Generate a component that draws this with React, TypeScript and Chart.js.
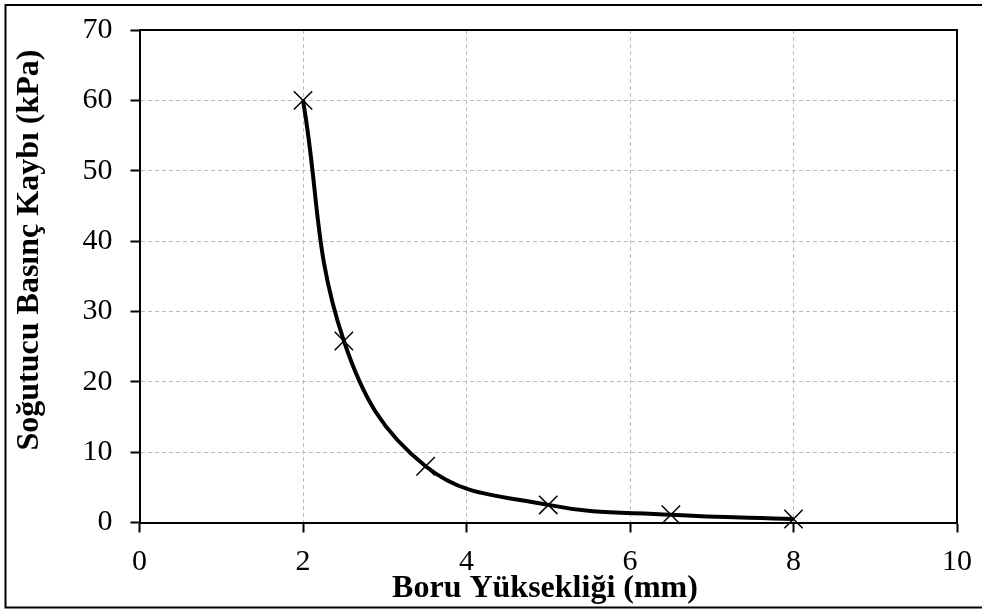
import React, { useEffect, useRef } from "react";
import { Chart, registerables } from "chart.js";

Chart.register(...registerables);

const xValues = [2, 2.5, 3.5, 5, 6.5, 8];
const yValues = [60, 25.8, 8, 2.5, 1.1, 0.5];
const xTitle = "Boru Yüksekliği (mm)";
const yTitle = "Soğutucu Basınç Kaybı (kPa)";
const FONT = "'Liberation Serif', 'Times New Roman', serif";

const framePlugin = {
  id: "frame",
  afterDraw(chart: any) {
    const { ctx, chartArea } = chart;
    ctx.save();
    ctx.strokeStyle = "#000";
    ctx.lineWidth = 2;
    ctx.setLineDash([]);
    ctx.beginPath();
    ctx.moveTo(chartArea.left, chartArea.top);
    ctx.lineTo(chartArea.right, chartArea.top);
    ctx.lineTo(chartArea.right, chartArea.bottom);
    ctx.stroke();
    ctx.beginPath();
    ctx.moveTo(990, 5);
    ctx.lineTo(5.5, 5);
    ctx.lineTo(5.5, 607.5);
    ctx.lineTo(990, 607.5);
    ctx.stroke();
    ctx.fillStyle = "#000";
    ctx.font = `bold 32px ${FONT}`;
    ctx.textAlign = "center";
    ctx.textBaseline = "middle";
    ctx.fillText(xTitle, 545, 589);
    ctx.translate(30, 250);
    ctx.rotate(-Math.PI / 2);
    ctx.fillText(yTitle, 0, 0);
    ctx.restore();
  },
};

export default function App() {
  const ref = useRef<HTMLCanvasElement>(null);
  useEffect(() => {
    document.body.style.margin = "0";
    const chart = new Chart(ref.current!, {
      type: "scatter",
      data: {
        datasets: [
          {
            data: xValues.map((x, i) => ({ x, y: yValues[i] })),
            showLine: true,
            borderColor: "#000",
            borderWidth: 4,
            tension: 0.4,
            pointStyle: "crossRot",
            pointRadius: 13,
            pointHoverRadius: 13,
            pointBorderWidth: 1.5,
            pointBorderColor: "#000",
            pointBackgroundColor: "#000",
            clip: false as any,
          },
        ],
      },
      options: {
        responsive: false,
        animation: false,
        devicePixelRatio: 1,
        layout: { padding: { left: 0, top: 30, right: 25, bottom: 0 } },
        plugins: {
          legend: { display: false },
          tooltip: { enabled: false },
        },
        scales: {
          x: {
            type: "linear",
            min: 0,
            max: 10,
            ticks: {
              stepSize: 2,
              color: "#000",
              padding: 12,
              font: { family: FONT, size: 30 },
              maxRotation: 0,
            },
            grid: {
              color: "#bdbdbd",
              lineWidth: 1,
              tickLength: 10,
              tickColor: "#000",
              tickWidth: 2,
            },
            border: { display: true, color: "#000", width: 2, dash: [4, 3] },
            afterFit(scale: any) {
              scale.height = 87.5;
              scale.paddingLeft = 0;
              scale.paddingRight = 0;
            },
          },
          y: {
            type: "linear",
            min: 0,
            max: 70,
            ticks: {
              stepSize: 10,
              color: "#000",
              padding: 18,
              font: { family: FONT, size: 30 },
            },
            grid: {
              color: "#bdbdbd",
              lineWidth: 1,
              tickLength: 9,
              tickColor: "#000",
              tickWidth: 2,
            },
            border: { display: true, color: "#000", width: 2, dash: [4, 3] },
            afterFit(scale: any) {
              scale.width = 139.5;
              scale.paddingTop = 0;
              scale.paddingBottom = 0;
            },
          },
        },
      },
      plugins: [framePlugin],
    });
    return () => chart.destroy();
  }, []);
  return (
    <div style={{ position: "fixed", left: 0, top: 0, width: 982, height: 610, background: "#fff" }}>
      <canvas ref={ref} width={982} height={610} style={{ display: "block" }} />
    </div>
  );
}
